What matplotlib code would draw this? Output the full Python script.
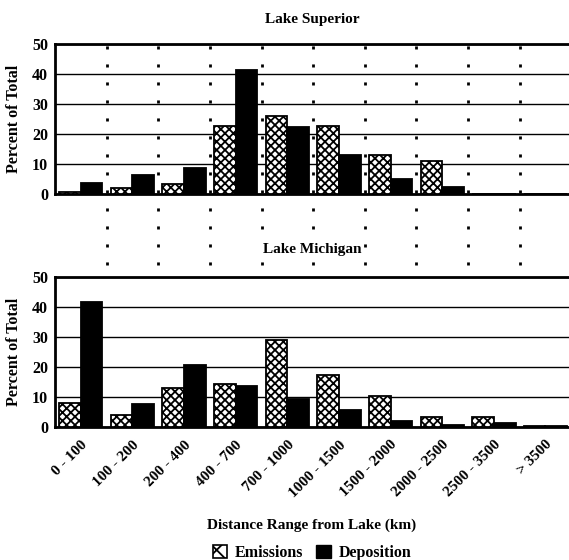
import matplotlib
matplotlib.use('Agg')
import matplotlib.pyplot as plt
from matplotlib.patches import Patch
import numpy as np

categories = ['0 - 100', '100 - 200', '200 - 400', '400 - 700', '700 - 1000',
              '1000 - 1500', '1500 - 2000', '2000 - 2500', '2500 - 3500', '> 3500']
superior_emissions = [0.6, 1.9, 3.5, 22.6, 25.9, 22.8, 13.0, 11.0, 0.1, 0.0]
superior_deposition = [3.8, 6.2, 8.6, 41.3, 22.2, 13.0, 5.0, 2.4, 0.1, 0.0]
michigan_emissions = [8.1, 3.9, 12.9, 14.2, 29.1, 17.4, 10.3, 3.4, 3.3, 0.2]
michigan_deposition = [41.7, 7.8, 20.8, 13.6, 9.2, 5.8, 2.0, 0.8, 1.3, 0.3]
yticks = [0, 10, 20, 30, 40, 50]

plt.rcParams['font.family'] = ['Liberation Serif', 'DejaVu Serif']
plt.rcParams['font.weight'] = 'bold'
plt.rcParams['hatch.linewidth'] = 1.3

fig = plt.figure(figsize=(5.69, 5.60), dpi=100)
W, H = 569.0, 560.0
left = 55 / W
width = 1.0 - left + 0.004
ax1 = fig.add_axes([left, 1 - 194 / H, width, 150 / H])
ax2 = fig.add_axes([left, 1 - 427 / H, width, 150 / H])

x = np.arange(len(categories))
bw = 0.42
for ax, em, dep in [(ax1, superior_emissions, superior_deposition),
                    (ax2, michigan_emissions, michigan_deposition)]:
    ax.bar(x + 0.29, em, width=bw, facecolor='white', edgecolor='black',
           hatch='xxxx', linewidth=1.3, zorder=3)
    ax.bar(x + 0.71, dep, width=bw, facecolor='black', edgecolor='black',
           linewidth=1.3, zorder=3)
    ax.set_xlim(0, len(categories))
    ax.set_ylim(0, 50)
    ax.set_yticks(yticks)
    ax.set_yticklabels([str(v) for v in yticks], fontsize=11.5, fontweight='bold')
    ax.tick_params(axis='y', length=0, pad=5)
    ax.tick_params(axis='x', length=0)
    ax.yaxis.grid(True, color='black', linewidth=1.0)
    ax.set_axisbelow(True)
    for s in ['top', 'left', 'bottom']:
        ax.spines[s].set_linewidth(2.0)
    ax.spines['right'].set_visible(False)
    ax.set_ylabel('Percent of Total', fontsize=11.5, fontweight='bold')
    ax.yaxis.set_label_coords(-33 / 514, 0.5)

ax1.set_xticks([])
ax2.set_xticks(x + 0.5)
ax2.set_xticklabels(categories, rotation=45, ha='right', va='top',
                    rotation_mode='anchor', fontsize=11, fontweight='bold')
ax2.tick_params(axis='x', pad=8)

# dotted separators running through both panels
ext = (427 - 194) / 150
for b in range(1, len(categories)):
    ax1.axvline(b, ymin=-ext, ymax=1, clip_on=False, color='black',
                linewidth=2.0, linestyle=(0, (1.1, 5.38)), zorder=1.5)

cx = (55 + 569) / 2 / W
fig.text(cx, 1 - 20 / H, 'Lake Superior', ha='center', va='center',
         fontsize=11, fontweight='bold')
fig.text(cx, 1 - 250 / H, 'Lake Michigan', ha='center', va='center',
         fontsize=11, fontweight='bold', zorder=10,
         bbox=dict(facecolor='white', edgecolor='none', pad=1.0))
fig.text(cx, 1 - 525 / H, 'Distance Range from Lake (km)', ha='center',
         va='center', fontsize=11, fontweight='bold')

handles = [Patch(facecolor='white', edgecolor='black', hatch='x', linewidth=1.2),
           Patch(facecolor='black', edgecolor='black')]
fig.legend(handles, ['Emissions', 'Deposition'], loc='center',
           bbox_to_anchor=(cx, 1 - 553 / H), ncol=2, frameon=False,
           handlelength=0.9, handleheight=0.9, handletextpad=0.5,
           columnspacing=0.8, fontsize=11.5, borderpad=0)

fig.savefig('out.png', dpi=100)
